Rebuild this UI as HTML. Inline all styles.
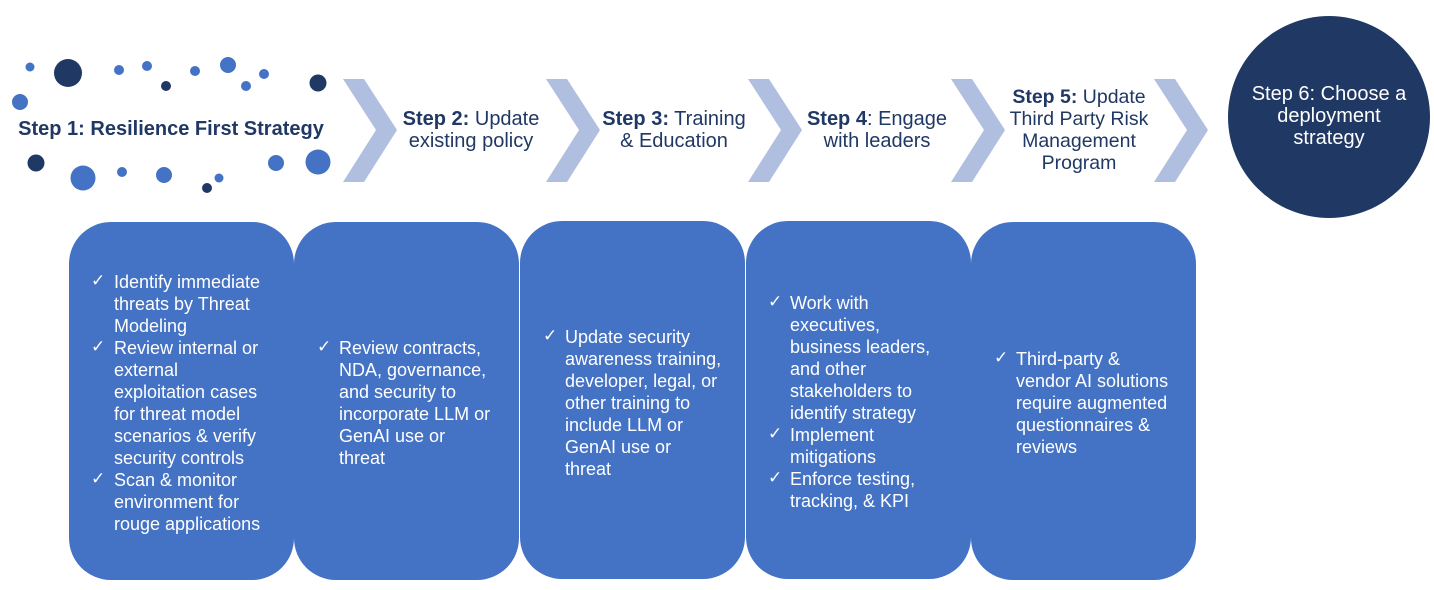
<!DOCTYPE html>
<html><head><meta charset="utf-8"><style>
body{margin:0;width:1434px;height:590px;background:#fff;position:relative;overflow:hidden;font-family:"Liberation Sans",Arial,sans-serif}
.t{position:absolute;line-height:22px;white-space:nowrap}
.h{color:#203864;font-size:20px;text-align:center}
.box{position:absolute;background:#4472c4;border-radius:42px;top:222px;height:358px;width:225px}
.bt{position:absolute;color:#fff;font-size:18px;line-height:22px;white-space:nowrap}
.ck{position:absolute;color:#fff;font-size:17px;line-height:22px}
</style></head><body>
<svg width="1434" height="590" style="position:absolute;left:0;top:0">
<g id="dots">
<circle cx="30" cy="67" r="4.5" fill="#4472c4"/><circle cx="68" cy="73" r="14" fill="#203864"/>
<circle cx="119" cy="70" r="5" fill="#4472c4"/><circle cx="147" cy="66" r="5" fill="#4472c4"/>
<circle cx="166" cy="86" r="5" fill="#203864"/><circle cx="195" cy="71" r="5" fill="#4472c4"/>
<circle cx="228" cy="65" r="8" fill="#4472c4"/><circle cx="246" cy="86" r="5" fill="#4472c4"/>
<circle cx="264" cy="74" r="5" fill="#4472c4"/><circle cx="318" cy="83" r="8.5" fill="#203864"/>
<circle cx="20" cy="102" r="8" fill="#4472c4"/><circle cx="36" cy="163" r="8.5" fill="#203864"/>
<circle cx="83" cy="178" r="12.5" fill="#4472c4"/><circle cx="122" cy="172" r="5" fill="#4472c4"/>
<circle cx="164" cy="175" r="8" fill="#4472c4"/><circle cx="207" cy="188" r="5" fill="#203864"/>
<circle cx="219" cy="178" r="4.5" fill="#4472c4"/><circle cx="276" cy="163" r="8" fill="#4472c4"/>
<circle cx="318" cy="162" r="12.5" fill="#4472c4"/>
</g>
<g fill="#b0bfe0">
<polygon points="343,79 364,79 397,130 364,182 343,182 376,130"/>
<polygon points="546,79 567,79 600,130 567,182 546,182 579,130"/>
<polygon points="748,79 769,79 802,130 769,182 748,182 781,130"/>
<polygon points="951,79 972,79 1005,130 972,182 951,182 984,130"/>
<polygon points="1154,79 1175,79 1208,130 1175,182 1154,182 1187,130"/>
</g>
<circle cx="1329" cy="117" r="101" fill="#203864"/>
</svg>

<div class="t h" style="left:0;width:342px;top:118px;font-weight:bold">Step 1: Resilience First Strategy</div>
<div class="t h" style="left:396px;width:150px;top:108px"><b>Step 2:</b> Update<br>existing policy</div>
<div class="t h" style="left:599px;width:150px;top:108px"><b>Step 3:</b> Training<br>&amp; Education</div>
<div class="t h" style="left:802px;width:150px;top:108px"><b>Step 4</b>: Engage<br>with leaders</div>
<div class="t h" style="left:1004px;width:150px;top:86px;font-size:19.5px"><b>Step 5:</b> Update<br>Third Party Risk<br>Management<br>Program</div>
<div class="t h" style="left:1229px;width:200px;top:83px;color:#fff">Step 6: Choose a<br>deployment<br>strategy</div>

<div class="box" style="left:69px"></div>
<div class="box" style="left:294px"></div>
<div class="box" style="left:520px;top:221px"></div>
<div class="box" style="left:746px;top:221px"></div>
<div class="box" style="left:971px"></div>

<div class="ck" style="left:91px;top:270px">✓</div><div class="ck" style="left:91px;top:336px">✓</div><div class="ck" style="left:91px;top:468px">✓</div>
<div class="bt" style="left:114px;top:271px">Identify immediate<br>threats by Threat<br>Modeling<br>Review internal or<br>external<br>exploitation cases<br>for threat model<br>scenarios &amp; verify<br>security controls<br>Scan &amp; monitor<br>environment for<br>rouge applications</div>

<div class="ck" style="left:317px;top:336px">✓</div>
<div class="bt" style="left:339px;top:337px">Review contracts,<br>NDA, governance,<br>and security to<br>incorporate LLM or<br>GenAI use or<br>threat</div>

<div class="ck" style="left:543px;top:325px">✓</div>
<div class="bt" style="left:565px;top:326px">Update security<br>awareness training,<br>developer, legal, or<br>other training to<br>include LLM or<br>GenAI use or<br>threat</div>

<div class="ck" style="left:768px;top:291px">✓</div><div class="ck" style="left:768px;top:423px">✓</div><div class="ck" style="left:768px;top:467px">✓</div>
<div class="bt" style="left:790px;top:292px">Work with<br>executives,<br>business leaders,<br>and other<br>stakeholders to<br>identify strategy<br>Implement<br>mitigations<br>Enforce testing,<br>tracking, &amp; KPI</div>

<div class="ck" style="left:994px;top:347px">✓</div>
<div class="bt" style="left:1016px;top:348px">Third-party &amp;<br>vendor AI solutions<br>require augmented<br>questionnaires &amp;<br>reviews</div>
</body></html>
